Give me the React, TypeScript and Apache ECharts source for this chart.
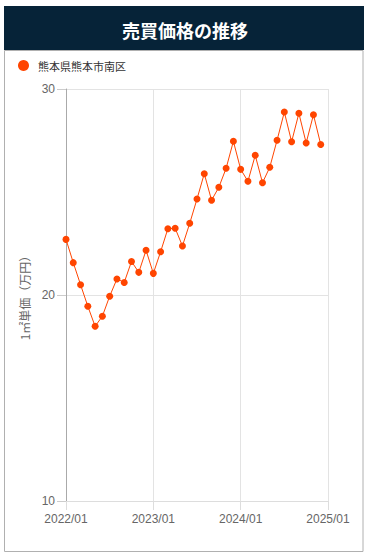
import React, { useEffect, useRef } from "react";
import * as echarts from "echarts";

const titleText = "売買価格の推移";
const seriesName = "熊本県熊本市南区";
const yAxisName = "1㎡単価（万円）";

const months: string[] = [
  "2022/01","2022/02","2022/03","2022/04","2022/05","2022/06","2022/07","2022/08","2022/09","2022/10","2022/11","2022/12",
  "2023/01","2023/02","2023/03","2023/04","2023/05","2023/06","2023/07","2023/08","2023/09","2023/10","2023/11","2023/12",
  "2024/01","2024/02","2024/03","2024/04","2024/05","2024/06","2024/07","2024/08","2024/09","2024/10","2024/11","2024/12",
  "2025/01",
];

const prices: number[] = [
  22.7, 21.57, 20.5, 19.45, 18.48, 18.97, 19.94, 20.78, 20.61, 21.63, 21.1, 22.17,
  21.05, 22.1, 23.22, 23.24, 22.38, 23.48, 24.66, 25.89, 24.6, 25.23, 26.15, 27.46,
  26.1, 25.52, 26.78, 25.45, 26.2, 27.51, 28.88, 27.44, 28.82, 27.38, 28.75, 27.31,
];

const yMin = 10;
const yMax = 30;
const yInterval = 10;

export default function App() {
  const ref = useRef<HTMLDivElement>(null);
  useEffect(() => {
    if (!ref.current) return;
    const chart = echarts.init(ref.current, undefined, { renderer: "svg" });
    chart.setOption({
      animation: false,
      graphic: [
        {
          type: "rect",
          shape: { x: 4, y: 6, width: 360, height: 44 },
          style: { fill: "#062338" },
          z: 0,
        },
        {
          type: "rect",
          shape: { x: 4.5, y: 50.5, width: 358.5, height: 501 },
          style: { fill: "none", stroke: "#b0b0b0", lineWidth: 1 },
          z: 0,
        },
      ],
      title: {
        text: titleText,
        left: "center",
        top: 16,
        textStyle: {
          color: "#ffffff",
          fontSize: 18,
          fontWeight: "bold",
          fontFamily: "Noto Sans CJK JP",
        },
      },
      legend: {
        left: 13,
        top: 55,
        icon: "circle",
        itemWidth: 11,
        itemHeight: 11,
        itemGap: 10,
        textStyle: { color: "#333", fontSize: 11, fontFamily: "Noto Sans CJK JP", padding: [0, 0, 0, 4] },
        data: [seriesName],
      },
      grid: { left: 66, right: 42, top: 89, bottom: 57, containLabel: false },
      xAxis: {
        type: "category",
        data: months,
        boundaryGap: false,
        axisLine: { show: true, lineStyle: { color: "#dddddd" } },
        axisTick: { show: true, interval: 11, length: 9, lineStyle: { color: "#dddddd" } },
        axisLabel: {
          interval: 11,
          margin: 12,
          color: "#666",
          fontSize: 12,
          fontFamily: "Liberation Sans",
        },
        splitLine: { show: true, interval: 11, lineStyle: { color: "#e3e3e3" } },
      },
      yAxis: {
        type: "value",
        min: yMin,
        max: yMax,
        interval: yInterval,
        name: yAxisName,
        nameLocation: "middle",
        nameGap: 36,
        nameTextStyle: { color: "#666", fontSize: 12, fontFamily: "Noto Sans CJK JP" },
        axisLine: { show: true, lineStyle: { color: "#aaaaaa" } },
        axisTick: { show: true, length: 9, lineStyle: { color: "#cccccc" } },
        axisLabel: { margin: 11, color: "#666", fontSize: 12, fontFamily: "Liberation Sans" },
        splitLine: { show: true, lineStyle: { color: "#e3e3e3" } },
      },
      series: [
        {
          name: seriesName,
          type: "line",
          data: prices,
          symbol: "circle",
          symbolSize: 7,
          showSymbol: true,
          showAllSymbol: true,
          itemStyle: { color: "#ff4500" },
          lineStyle: { color: "#ff4500", width: 1 },
        },
      ],
    });
    return () => chart.dispose();
  }, []);
  return (
    <div
      ref={ref}
      style={{ position: "absolute", left: 0, top: 0, width: 370, height: 558 }}
    />
  );
}
